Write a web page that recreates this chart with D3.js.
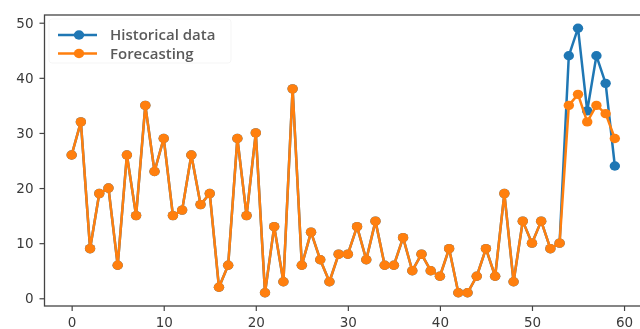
<!DOCTYPE html>
<html>
<head>
<meta charset="utf-8">
<script src="https://cdn.jsdelivr.net/npm/d3@7"></script>
<style>
    body { margin: 0; background: #fff; }
    svg { display: block; filter: blur(0.5px); }
    text { font-family: "DejaVu Sans", sans-serif; }
</style>
</head>
<body>
<div class="mainBody"></div>
<script>
var width = 640;
var height = 329;

var steps = d3.range(0, 60);
var historical = [26, 32, 9, 19, 20, 6, 26, 15, 35, 23,
    29, 15, 16, 26, 17, 19, 2, 6, 29, 15,
    30, 1, 13, 3, 38, 6, 12, 7, 3, 8,
    8, 13, 7, 14, 6, 6, 11, 5, 8, 5,
    4, 9, 1, 1, 4, 9, 4, 19, 3, 14,
    10, 14, 9, 10, 44, 49, 34, 44, 39, 24];
var forecasting = [26, 32, 9, 19, 20, 6, 26, 15, 35, 23,
    29, 15, 16, 26, 17, 19, 2, 6, 29, 15,
    30, 1, 13, 3, 38, 6, 12, 7, 3, 8,
    8, 13, 7, 14, 6, 6, 11, 5, 8, 5,
    4, 9, 1, 1, 4, 9, 4, 19, 3, 14,
    10, 14, 9, 10, 35, 37, 32, 35, 33.5, 29];
var xTicks = [0, 10, 20, 30, 40, 50, 60];
var yTicks = [0, 10, 20, 30, 40, 50];
var seriesNames = ["Historical data", "Forecasting"];
var seriesColors = ["#1f77b4", "#ff7f0e"];

var svg = d3.select("div.mainBody").append("svg")
    .attr("width", width)
    .attr("height", height);

// matplotlib style 5% margins around the data
var x = d3.scaleLinear().domain([-2.95, 61.95]).range([44.5, 642]);
var y = d3.scaleLinear().domain([-1.4, 51.4]).range([306, 15]);

function drawAxes() {
    let xAxis = svg.append("g")
        .attr("transform", `translate(0,${y.range()[0]})`)
        .call(d3.axisBottom(x).tickValues(xTicks).tickSize(5).tickPadding(6));
    let yAxis = svg.append("g")
        .attr("transform", `translate(${x.range()[0]},0)`)
        .call(d3.axisLeft(y).tickValues(yTicks).tickSize(5).tickPadding(6));
    [xAxis, yAxis].forEach(function (a) {
        a.select(".domain").remove();
        a.selectAll("line").attr("stroke", "#444").attr("stroke-width", 1.2);
        a.selectAll("text")
            .attr("fill", "#3a3a3a")
            .style("font-size", "13.5px");
    });
    // frame
    svg.append("rect")
        .attr("x", x.range()[0])
        .attr("y", y.range()[1])
        .attr("width", x.range()[1] - x.range()[0])
        .attr("height", y.range()[0] - y.range()[1])
        .attr("fill", "none")
        .attr("stroke", "#444")
        .attr("stroke-width", 1.3);
}

function drawSeries(values, color) {
    let line = d3.line()
        .x(function (d, i) { return x(steps[i]); })
        .y(function (d) { return y(d); });
    let g = svg.append("g");
    g.append("path")
        .datum(values)
        .attr("d", line)
        .attr("fill", "none")
        .attr("stroke", color)
        .attr("stroke-width", 2.5)
        .attr("stroke-linejoin", "round");
    g.selectAll("ellipse")
        .data(values).enter().append("ellipse")
        .attr("cx", function (d, i) { return x(steps[i]); })
        .attr("cy", function (d) { return y(d); })
        .attr("rx", 5.2)
        .attr("ry", 4.7)
        .attr("fill", color);
}

function drawLegend() {
    let legend = svg.append("g").attr("transform", "translate(49,19)");
    legend.append("rect")
        .attr("width", 182)
        .attr("height", 44)
        .attr("rx", 3)
        .attr("fill", "#fff")
        .attr("fill-opacity", 0.8)
        .attr("stroke", "#f5f5f5");
    let items = legend.selectAll("g.item")
        .data(seriesNames).enter().append("g")
        .attr("class", "item")
        .attr("transform", function (d, i) { return `translate(0,${16 + i * 18.5})`; });
    items.append("line")
        .attr("x1", 9).attr("x2", 48)
        .attr("stroke", function (d, i) { return seriesColors[i]; })
        .attr("stroke-width", 2.5);
    items.append("ellipse")
        .attr("cx", 30).attr("rx", 5.2).attr("ry", 4.7)
        .attr("fill", function (d, i) { return seriesColors[i]; });
    items.append("text")
        .attr("x", 61)
        .attr("dy", "0.35em")
        .attr("fill", "#5a5a5a")
        .style("font-family", "'Open Sans', sans-serif")
        .style("font-size", "15px")
        .style("font-weight", 600)
        .text(function (d) { return d; });
}

function initialLoad() {
    drawAxes();
    drawSeries(historical, seriesColors[0]);
    drawSeries(forecasting, seriesColors[1]);
    drawLegend();
}

initialLoad();
</script>
</body>
</html>
